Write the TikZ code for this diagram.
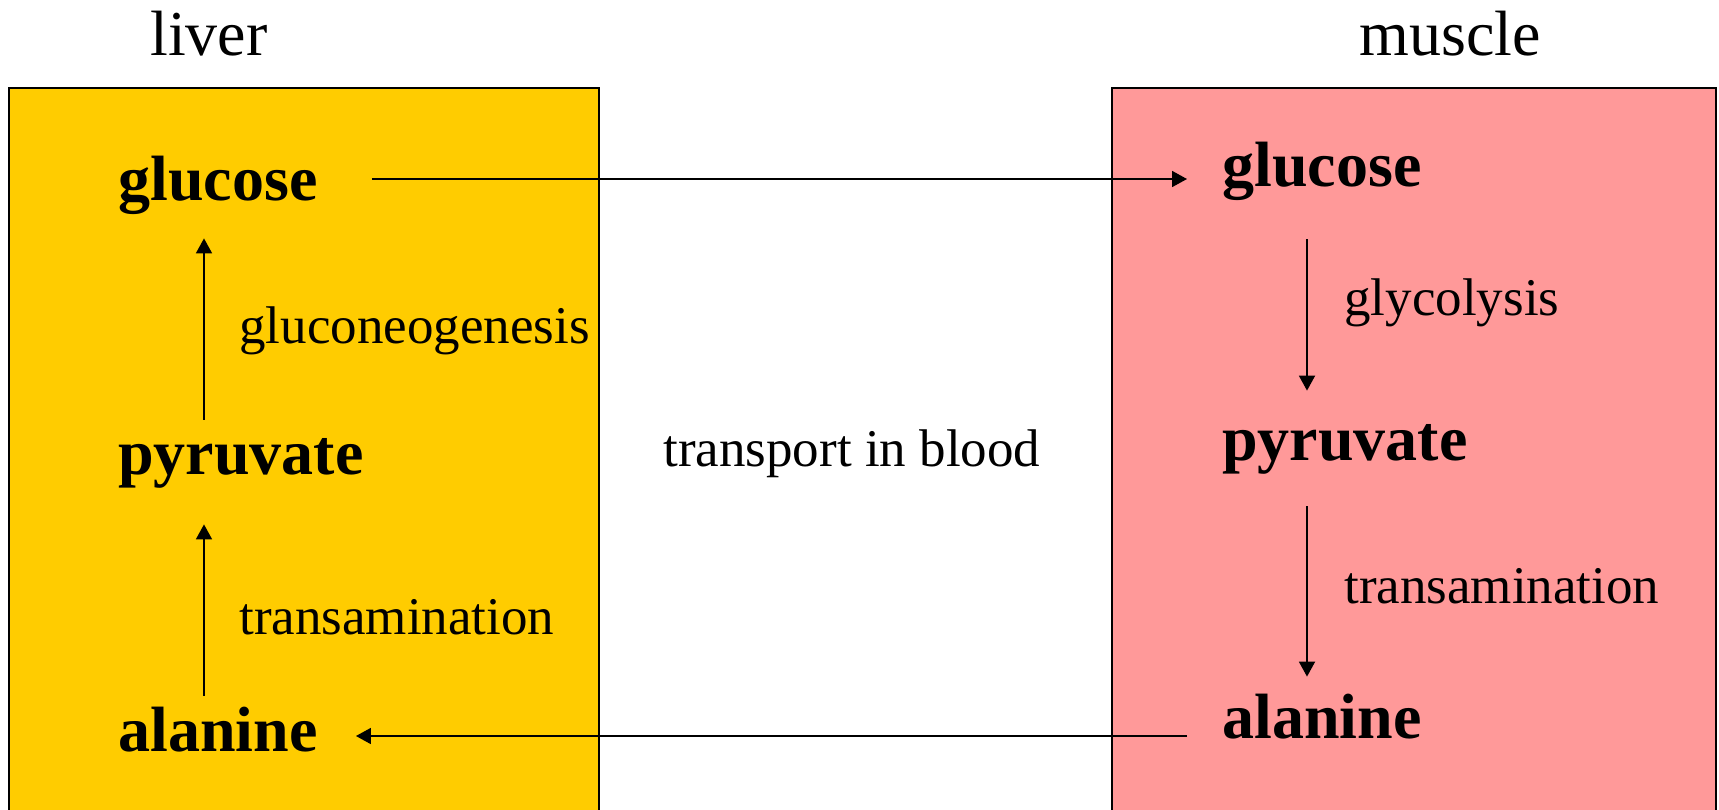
\documentclass[tikz,border=0pt]{standalone}
\usepackage{fontspec}
\setmainfont{Liberation Serif}
\usetikzlibrary{arrows.meta}

\definecolor{liveryellow}{HTML}{FFCC00}
\definecolor{musclepink}{HTML}{FF9999}

\tikzset{
  organ/.style={draw=black, line width=1pt},
  metab/.style={anchor=base west, inner sep=0pt, text height=22pt, text depth=7pt,
    font=\fontsize{32}{38}\selectfont\bfseries},
  enzyme/.style={anchor=base west, inner sep=0pt, font=\fontsize{26.5}{32}\selectfont},
  title/.style={anchor=base west, inner sep=0pt, font=\fontsize{32}{38}\selectfont},
  flow/.style={-{Triangle[length=7.5pt,width=8pt]}, line width=0.9pt}
}

\begin{document}
\begin{tikzpicture}[x=0.5pt, y=-0.5pt]
	\clip (0,0) rectangle (1719,809);
	% the two organs
	\draw[organ, fill=liveryellow] (9,88) rectangle (599,830);
	\draw[organ, fill=musclepink] (1112,88) rectangle (1716,830);
	\node[title] (liver) at (150,55) {liver};
	\node[title] (muscle) at (1359,55) {muscle};
	% liver side
	\node[metab] (lglu) at (118,200) {glucose};
	\node[metab] (lpyr) at (118,474) {pyruvate};
	\node[metab] (lala) at (118,751) {alanine};
	\node[enzyme] (gng) at (239,343) {gluconeogenesis};
	\node[enzyme] (ltrans) at (239,634) {transamination};
	% muscle side
	\node[metab] (rglu) at (1222,186) {glucose};
	\node[metab] (rpyr) at (1222,460) {pyruvate};
	\node[metab] (rala) at (1222,738) {alanine};
	\node[enzyme] (glyc) at (1344,315) {glycolysis};
	\node[enzyme] (rtrans) at (1344,603) {transamination};
	\node[enzyme] (blood) at (663,466) {transport in blood};
	% arrows
	\draw[flow, shorten <=5pt, shorten >=12pt] ([xshift=43pt]lpyr.north west) -- ([xshift=43pt]lglu.south west);
	\draw[flow, shorten <=5.5pt, shorten >=18pt] ([xshift=43pt]lala.north west) -- ([xshift=43pt]lpyr.south west);
	\draw[flow, shorten <=19.5pt, shorten >=12.5pt] ([xshift=42.5pt]rglu.south west) -- ([xshift=42.5pt]rpyr.north west);
	\draw[flow, shorten <=16pt, shorten >=8.5pt] ([xshift=42.5pt]rpyr.south west) -- ([xshift=42.5pt]rala.north west);
	\coordinate (g1) at ([yshift=3pt]lglu.east);
	\draw[flow, shorten <=27pt, shorten >=17.5pt] (g1) -- (g1 -| rglu.west);
	\draw[flow, shorten <=17.5pt, shorten >=19pt] (rala.west |- lala.east) -- (lala.east);
\end{tikzpicture}
\end{document}
